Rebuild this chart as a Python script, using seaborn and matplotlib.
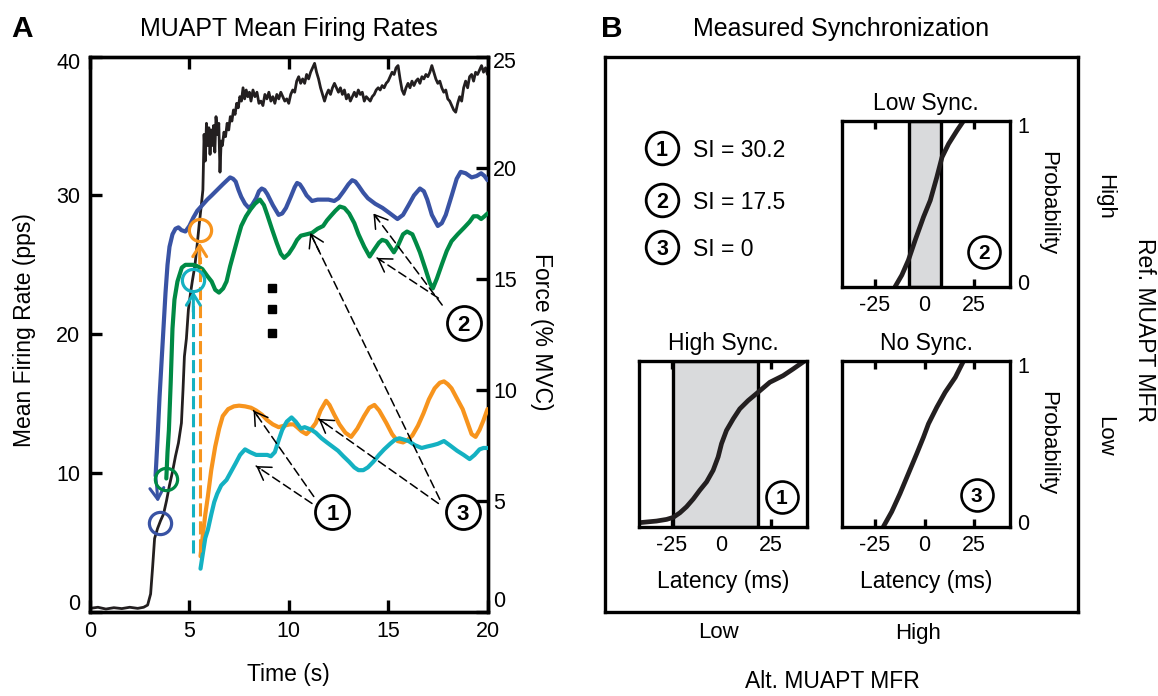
import matplotlib
matplotlib.use("Agg")
import matplotlib.pyplot as plt
from matplotlib.transforms import ScaledTranslation
import seaborn as sns

# ---------------- Panel A data ----------------
time_ticks = [0, 5, 10, 15, 20]
rate_ticks = [0, 10, 20, 30, 40]
force_ticks = [0, 5, 10, 15, 20, 25]

force_t = [0.0, 0.4, 0.8, 1.2, 1.6, 2.0, 2.4, 2.7, 2.9, 3.05, 3.15, 3.25, 3.4, 3.55, 3.7, 3.85,
           4.0, 4.15, 4.3, 4.45, 4.6, 4.68, 4.75, 4.85, 4.95, 5.05, 5.15, 5.28, 5.4, 5.5, 5.6, 5.68,
           5.74, 5.8, 5.86, 5.92, 5.98, 6.04, 6.1, 6.16, 6.22, 6.28, 6.34, 6.42, 6.48, 6.54, 6.6, 6.66,
           6.74, 6.82, 6.9, 6.98, 7.06, 7.14, 7.22, 7.3, 7.38, 7.46, 7.54, 7.62, 7.7, 7.78, 7.86, 7.94,
           8.02, 8.1, 8.2, 8.3, 8.4, 8.5, 8.6, 8.7, 8.8, 8.9, 9.0, 9.1, 9.2, 9.3, 9.4, 9.5, 9.6, 9.7,
           9.8, 9.9, 10.0, 10.1, 10.2, 10.3, 10.4, 10.5, 10.6, 10.7, 10.8, 10.9, 11.0, 11.1, 11.2, 11.3,
           11.4, 11.5, 11.6, 11.7, 11.8, 11.9, 12.0, 12.1, 12.2, 12.3, 12.4, 12.5, 12.6, 12.7, 12.8, 12.9,
           13.0, 13.1, 13.2, 13.3, 13.4, 13.5, 13.6, 13.7, 13.8, 13.9, 14.0, 14.1, 14.2, 14.3, 14.4, 14.5,
           14.6, 14.7, 14.8, 14.9, 15.0, 15.1, 15.2, 15.3, 15.4, 15.5, 15.6, 15.7, 15.8, 15.9, 16.0, 16.1,
           16.2, 16.3, 16.4, 16.5, 16.6, 16.7, 16.8, 16.9, 17.0, 17.1, 17.2, 17.3, 17.4, 17.5, 17.6, 17.7,
           17.8, 17.9, 18.0, 18.1, 18.2, 18.3, 18.4, 18.5, 18.6, 18.7, 18.8, 18.9, 19.0, 19.1, 19.2, 19.3,
           19.4, 19.5, 19.6, 19.7, 19.8, 19.9, 20.0]
force_mvc = [0.15, 0.2, 0.12, 0.18, 0.14, 0.2, 0.15, 0.2, 0.3, 0.8, 2.0, 3.3, 3.75, 4.1, 4.4, 5.0,
             5.7, 6.3, 7.0, 7.6, 8.5, 10.0, 11.5, 12.3, 13.6, 14.3, 14.9, 15.6, 16.6, 17.5, 18.3, 19.0,
             21.5, 20.3, 22.0, 21.0, 21.8, 20.6, 21.7, 21.0, 21.9, 20.7, 22.3, 21.5, 22.0, 19.8, 21.2, 21.0,
             21.6, 21.4, 22.0, 21.7, 22.3, 22.1, 22.6, 22.4, 22.9, 22.7, 23.2, 23.0, 23.6, 23.1, 23.5, 23.2,
             23.4, 23.0, 23.5, 23.2, 23.4, 22.9, 23.0, 22.8, 23.3, 23.1, 23.4, 23.0, 23.2, 22.9, 23.3, 23.1, 23.4, 23.2,
             23.0, 23.1, 22.9, 23.3, 23.5, 23.4, 23.9, 24.1, 23.8, 24.0, 23.8, 24.2, 24.0, 24.3, 24.5, 24.7,
             24.3, 24.0, 23.6, 23.3, 23.0, 23.3, 23.5, 23.3, 23.6, 23.8, 23.6, 23.4, 23.6, 23.3, 23.5, 23.1,
             23.3, 23.0, 23.2, 23.4, 23.2, 23.5, 23.3, 23.4, 23.0, 23.2, 23.1, 23.0, 23.2, 23.3, 23.5, 23.6,
             23.5, 23.7, 23.6, 23.8, 23.9, 24.1, 24.3, 24.2, 24.5, 24.6, 24.0, 23.5, 23.3, 23.6, 23.8, 23.6,
             23.9, 23.7, 23.9, 24.0, 23.8, 24.1, 24.0, 24.2, 24.1, 24.3, 24.6, 24.3, 24.0, 23.8, 23.9, 23.6,
             23.4, 23.5, 23.1, 23.0, 22.8, 22.6, 22.5, 22.9, 23.2, 23.0, 23.6, 23.9, 23.6, 24.1, 24.2, 23.9,
             24.3, 24.2, 24.4, 24.6, 24.3, 24.5, 24.2]

blue_t = [3.30, 3.40, 3.50, 3.60, 3.70, 3.80, 3.90, 4.00, 4.15, 4.30, 4.45, 4.60, 4.80, 5.00, 5.20,
          5.40, 5.65, 5.90, 6.12, 6.40, 6.68, 6.90, 7.05, 7.20, 7.33, 7.47, 7.61, 7.80, 7.99, 8.15,
          8.36, 8.50, 8.64, 8.78, 8.92, 9.20, 9.49, 9.67, 9.86, 10.10, 10.30, 10.42, 10.56, 10.70,
          10.90, 11.17, 11.45, 11.73, 12.00, 12.29, 12.50, 12.76, 13.00, 13.19, 13.35, 13.51, 13.75,
          13.98, 14.35, 14.72, 15.10, 15.47, 15.75, 16.03, 16.30, 16.60, 16.80, 16.97, 17.20, 17.50,
          17.70, 17.90, 18.20, 18.45, 18.65, 18.90, 19.20, 19.45, 19.68, 19.85, 20.00]
blue_rate = [9.8, 12.5, 15.5, 18.0, 20.5, 23.0, 25.0, 26.3, 27.2, 27.6, 27.7, 27.5, 27.4, 27.8, 28.4,
             28.9, 29.3, 29.7, 30.0, 30.4, 30.8, 31.1, 31.3, 31.2, 31.0, 30.4, 29.9, 29.4, 29.1, 29.3,
             29.8, 30.3, 30.5, 30.4, 30.1, 29.3, 28.6, 28.7, 29.1, 29.9, 30.6, 30.9, 30.8, 30.5,
             30.0, 29.6, 29.7, 29.7, 29.7, 29.6, 29.8, 30.3, 30.8, 31.1, 31.0, 30.7, 30.2,
             29.8, 29.4, 29.1, 28.7, 28.3, 28.6, 29.3, 30.0, 30.5, 30.3, 29.7, 28.6, 27.8,
             28.0, 28.6, 30.0, 31.2, 31.7, 31.6, 31.3, 31.4, 31.6, 31.4, 31.1]

green_t = [3.84, 3.90, 3.97, 4.06, 4.15, 4.25, 4.40, 4.62, 4.80, 5.00, 5.18, 5.40, 5.65, 5.90, 6.12,
           6.30, 6.49, 6.70, 6.87, 7.05, 7.24, 7.45, 7.61, 7.85, 8.08, 8.30, 8.55, 8.75, 8.92, 9.15,
           9.39, 9.60, 9.77, 10.00, 10.23, 10.42, 10.61, 10.90, 11.17, 11.45, 11.73, 11.92, 12.10,
           12.35, 12.57, 12.80, 13.04, 13.30, 13.51, 13.80, 14.07, 14.30, 14.54, 14.70, 14.91, 15.10,
           15.29, 15.50, 15.75, 15.95, 16.22, 16.40, 16.60, 16.90, 17.10, 17.25, 17.45, 17.72, 17.95,
           18.19, 18.50, 18.84, 19.10, 19.30, 19.50, 19.68, 19.85, 20.00]
green_rate = [9.6, 11.5, 13.1, 16.5, 20.4, 22.5, 23.8, 24.8, 25.0, 25.0, 25.0, 24.9, 24.7, 24.2, 23.8,
              23.2, 23.0, 23.3, 23.8, 24.9, 25.9, 27.0, 27.8, 28.5, 29.0, 29.4, 29.7, 29.3, 28.6, 27.6,
              26.6, 25.8, 25.5, 25.8, 26.3, 26.8, 27.1, 27.2, 27.3, 27.6, 27.8, 28.2, 28.5,
              28.9, 29.2, 29.1, 28.7, 28.0, 27.2, 26.3, 25.6, 26.1, 26.6, 26.8, 26.7, 26.3,
              25.9, 26.4, 27.2, 27.4, 27.2, 26.6, 25.9, 24.6, 23.7, 23.3, 24.0, 25.1, 26.0,
              26.7, 27.2, 27.7, 28.1, 28.5, 28.5, 28.3, 28.5, 28.7]

orange_t = [5.56, 5.70, 5.80, 5.93, 6.10, 6.30, 6.50, 6.68, 6.95, 7.24, 7.50, 7.80, 8.10, 8.36, 8.65,
            8.92, 9.20, 9.49, 9.75, 10.05, 10.25, 10.42, 10.65, 10.89, 11.10, 11.36, 11.60, 11.88,
            12.05, 12.29, 12.55, 12.85, 13.14, 13.45, 13.79, 14.05, 14.31, 14.55, 14.91, 15.20, 15.47,
            15.75, 16.00, 16.22, 16.50, 16.78, 17.05, 17.34, 17.60, 17.81, 18.00, 18.19, 18.45, 18.75,
            19.00, 19.20, 19.40, 19.60, 19.80, 20.00]
orange_rate = [4.0, 5.8, 7.0, 8.3, 10.2, 11.9, 13.2, 14.1, 14.6, 14.8, 14.85, 14.8, 14.7, 14.5, 14.2,
               13.8, 13.5, 13.3, 13.4, 13.5, 13.5, 13.3, 13.0, 12.8, 13.1, 13.6, 14.5, 15.2,
               14.9, 14.2, 13.5, 12.9, 12.6, 13.2, 14.1, 14.7, 14.9, 14.5, 13.6, 12.8, 12.3,
               12.2, 12.4, 12.7, 13.4, 14.3, 15.3, 16.1, 16.5, 16.6, 16.4, 16.1, 15.4, 14.6,
               13.6, 12.8, 12.6, 13.1, 13.8, 14.6]

cyan_t = [5.56, 5.70, 5.80, 5.93, 6.10, 6.25, 6.40, 6.60, 6.87, 7.10, 7.33, 7.55, 7.80, 8.05, 8.36,
          8.65, 8.92, 9.10, 9.30, 9.50, 9.67, 9.90, 10.14, 10.35, 10.61, 10.80, 10.98, 11.15, 11.36,
          11.65, 11.92, 12.20, 12.48, 12.75, 13.04, 13.30, 13.51, 13.75, 13.98, 14.25, 14.54, 14.80,
          15.10, 15.35, 15.57, 15.80, 16.03, 16.35, 16.69, 16.95, 17.25, 17.50, 17.81, 18.10, 18.47,
          18.80, 19.10, 19.35, 19.60, 19.80, 20.00]
cyan_rate = [3.1, 4.4, 5.3, 5.9, 7.0, 7.9, 8.5, 9.1, 9.5, 10.1, 10.7, 11.3, 11.7, 11.5, 11.3,
             11.3, 11.3, 11.2, 11.5, 12.4, 13.1, 13.7, 14.0, 13.7, 13.2, 13.3, 13.2, 13.1, 12.9,
             12.5, 12.2, 11.9, 11.6, 11.2, 10.8, 10.4, 10.2, 10.2, 10.4, 10.8, 11.3, 11.7,
             12.1, 12.4, 12.5, 12.4, 12.3, 12.0, 11.8, 11.9, 12.0, 12.1, 12.3, 12.0, 11.6,
             11.3, 11.0, 11.3, 11.7, 11.8, 11.8]

# recruitment markers (time, rate) and dashed onset guides
recruit_blue = (3.50, 6.4)
recruit_green = (3.84, 9.6)
recruit_orange = (5.52, 27.5)
recruit_cyan = (5.20, 23.9)
guide_orange = (5.52, 4.3, 25.6)
guide_cyan = (5.20, 4.2, 22.1)
ellipsis_t = 9.17
ellipsis_rate = [23.3, 21.8, 20.1]

# circled labels in panel A (label, time, rate) and arrows (start, tip)
label_pos = [("1", 12.2, 7.15), ("2", 18.8, 20.8), ("3", 18.75, 7.15)]
pointer_arrows = [((11.17, 7.8), (8.36, 10.5)), ((11.26, 8.3), (8.23, 14.5)),
                  ((17.53, 7.8), (11.5, 13.9)), ((17.6, 8.1), (11.08, 27.3)),
                  ((17.72, 22.1), (14.26, 28.7)), ((17.53, 22.6), (14.44, 25.5))]

# ---------------- Panel B data ----------------
lat_ticks = [-25, 0, 25]
lat_tick_labels = ["-25", "0", "25"]
si_labels = ["1", "2", "3"]
si_values = ["SI = 30.2", "SI = 17.5", "SI = 0"]

lat_low = [-14.8, -11.4, -8.1, -4.7, -0.5, 2.9, 6.2, 8.8, 12.1, 16.3, 19.7]
p_low = [0.0, 0.07, 0.16, 0.28, 0.42, 0.52, 0.66, 0.78, 0.86, 0.94, 1.0]
shade_low = (-7.6, 8.4)

lat_high = [-41.5, -32.7, -27.6, -24.3, -20.9, -17.6, -14.2, -10.9, -7.5, -4.2, -1.7, 0.0, 2.5, 5.9,
            9.2, 13.4, 18.4, 24.3, 31.0, 36.0, 42.0]
p_high = [0.024, 0.034, 0.044, 0.056, 0.084, 0.12, 0.167, 0.22, 0.27, 0.34, 0.42, 0.50, 0.58, 0.65,
          0.71, 0.76, 0.81, 0.87, 0.91, 0.95, 1.0]
shade_high = (-24.4, 18.4)

lat_no = [-20.7, -16.5, -12.3, -8.1, -3.9, -0.5, 2.0, 6.2, 10.4, 15.5, 19.7]
p_no = [0.0, 0.09, 0.2, 0.32, 0.44, 0.54, 0.62, 0.72, 0.81, 0.90, 1.0]

BLUE, GREEN, ORANGE, CYAN = "#3953a4", "#008a45", "#f7941d", "#14b1c2"
INK = "#231f20"
SHADE = "#d9dadc"

sns.set_theme(style="white", rc={
    "axes.edgecolor": "black", "axes.linewidth": 2.4,
    "text.color": "black", "axes.labelcolor": "black",
    "xtick.color": "black", "ytick.color": "black",
    "figure.facecolor": "white", "axes.facecolor": "white",
})
plt.rcParams["font.family"] = ["Liberation Sans", "DejaVu Sans"]

W, H = 1158, 696
fig = plt.figure(figsize=(W / 100, H / 100), dpi=100)


def rect(l, t, r, b):
    return [l / W, 1 - b / H, (r - l) / W, (b - t) / H]


def fp(x, y):
    return x / W, 1 - y / H


def nudge(axis, idx, dy_px):
    tick = axis.get_major_ticks()[idx]
    off = ScaledTranslation(0, dy_px / 100, fig.dpi_scale_trans)
    tick.label1.set_transform(tick.label1.get_transform() + off)
    tick.label2.set_transform(tick.label2.get_transform() + off)


def circled(ax, x, y, s, ms, fs, transform=None, mew=2.0):
    tr = transform if transform is not None else ax.transData
    ax.plot([x], [y], marker="o", ms=ms, mfc="white", mec="black", mew=mew,
            transform=tr, clip_on=False, zorder=8)
    ax.text(x, y, s, ha="center", va="center_baseline", fontsize=fs, fontweight="bold",
            transform=tr, zorder=9)


# ================= Panel A =================
axA = fig.add_axes(rect(90, 56.7, 487.5, 611.7))
axF = axA.twinx()
axA.set_zorder(axF.get_zorder() + 1)
axA.patch.set_visible(False)

sns.lineplot(x=force_t, y=force_mvc, ax=axF, color=INK, lw=2.0, errorbar=None)
for tt, rr, cc in [(blue_t, blue_rate, BLUE), (green_t, green_rate, GREEN),
                   (orange_t, orange_rate, ORANGE), (cyan_t, cyan_rate, CYAN)]:
    sns.lineplot(x=tt, y=rr, ax=axA, color=cc, lw=3.0, errorbar=None, zorder=3)

dash_c = (0, (4.3, 1.6))
for (gx, g0, g1), cc in [(guide_orange, ORANGE), (guide_cyan, CYAN)]:
    axA.plot([gx, gx], [g0, g1], color=cc, lw=2.2, ls=dash_c, zorder=3)
    axA.annotate("", xy=(gx, g1 + 1.0), xytext=(gx, g1 - 0.5),
                 arrowprops=dict(arrowstyle="->,head_length=0.4,head_width=0.25", color=cc,
                                 lw=2.2, shrinkA=0, shrinkB=0, mutation_scale=20), zorder=4)
axA.annotate("", xy=(3.42, 7.9), xytext=(3.30, 10.0),
             arrowprops=dict(arrowstyle="->,head_length=0.4,head_width=0.25", color=BLUE,
                             lw=2.2, shrinkA=0, shrinkB=0, mutation_scale=20), zorder=4)

for (px, py), cc in [(recruit_blue, BLUE), (recruit_green, GREEN),
                     (recruit_orange, ORANGE), (recruit_cyan, CYAN)]:
    axA.plot([px], [py], marker="o", ms=16, mfc="none", mec=cc, mew=2.3, zorder=6)

axA.plot([ellipsis_t] * 3, ellipsis_rate, ls="none", marker="s", ms=6, color="black", zorder=5)

for start, tip in pointer_arrows:
    axA.annotate("", xy=tip, xytext=start,
                 arrowprops=dict(arrowstyle="-", lw=1.1, ls=(0, (5.5, 3)), color="black",
                                 shrinkA=0, shrinkB=0), zorder=5)
    near = (tip[0] + 0.07 * (start[0] - tip[0]), tip[1] + 0.07 * (start[1] - tip[1]))
    axA.annotate("", xy=tip, xytext=near,
                 arrowprops=dict(arrowstyle="->,head_length=0.45,head_width=0.28", lw=1.1,
                                 color="black", shrinkA=0, shrinkB=0, mutation_scale=20), zorder=5)

for s, lx, ly in label_pos:
    circled(axA, lx, ly, s, ms=24.5, fs=16)

axA.set_xlim(0, 20)
axA.set_ylim(0, 40)
axF.set_ylim(0, 25)
axA.set_xticks(time_ticks, labels=[str(v) for v in time_ticks])
axA.set_yticks(rate_ticks, labels=[str(v) for v in rate_ticks])
axF.set_yticks(force_ticks, labels=[str(v) for v in force_ticks])
axA.tick_params(axis="x", direction="in", length=8.5, width=2.4, top=True, bottom=True,
                labelsize=15.5, pad=6.5)
axA.tick_params(axis="y", direction="in", length=8.5, width=2.4, left=True, right=False,
                labelsize=15.5, pad=7)
axF.tick_params(axis="y", direction="in", length=8.5, width=2.4, right=True, left=False,
                labelsize=15.5, pad=4)
for a in (axA, axF):
    for sp in a.spines.values():
        sp.set_linewidth(2.4)
        sp.set_color("black")

axA.set_title("MUAPT Mean Firing Rates", fontsize=18, pad=15)
axA.set_xlabel("Time (s)", fontsize=16.5)
axA.xaxis.set_label_coords(0.5, (611.7 - 680.7) / 555)
axA.xaxis.label.set_va("baseline")
axA.set_ylabel("Mean Firing Rate (pps)", fontsize=16.5)
axA.yaxis.set_label_coords((25 - 90) / 397.5, (611.7 - 330) / 555)
axA.yaxis.label.set_va("center")
axF.set_ylabel("Force (% MVC)", fontsize=16.5, rotation=270)
axF.yaxis.set_label_coords((542 - 90) / 397.5, (611.7 - 332) / 555)
axF.yaxis.label.set_va("center")
axF.yaxis.label.set_ha("center")

nudge(axA.yaxis, 0, 10)
nudge(axA.yaxis, 4, -4)
nudge(axF.yaxis, 0, 13)
nudge(axF.yaxis, 5, -3)

fig.text(*fp(22.5, 36.7), "A", fontsize=21.5, fontweight="bold", ha="center", va="baseline")
fig.text(*fp(612, 36.7), "B", fontsize=21.5, fontweight="bold", ha="center", va="baseline")

# ================= Panel B =================
axB = fig.add_axes(rect(605, 56.7, 1078, 612))
axB.set_xticks([])
axB.set_yticks([])
for sp in axB.spines.values():
    sp.set_linewidth(2.4)
axB.set_title("Measured Synchronization", fontsize=18, pad=15)

for i, (s, txt) in enumerate(zip(si_labels, si_values)):
    cy = [148, 200, 246.5][i]
    cx, cyf = fp(662, cy)
    circled(axB, cx, cyf, s, ms=23.5, fs=15.5, transform=fig.transFigure)
    fig.text(*fp(693, cy), txt, fontsize=16.5, ha="left", va="center_baseline")


def cdf_box(box, lat, prob, shade, title, num, numpos, right_labels, xlabel):
    ax = fig.add_axes(rect(*box))
    if shade is not None:
        ax.axvspan(shade[0], shade[1], fc=SHADE, ec="black", lw=2.4, zorder=1)
    sns.lineplot(x=lat, y=prob, ax=ax, color=INK, lw=3.4, errorbar=None, zorder=3)
    ax.set_xlim(-41.5, 43)
    ax.set_ylim(0, 1)
    ax.set_xticks(lat_ticks, labels=lat_tick_labels)
    ax.tick_params(axis="x", direction="in", length=5.5, width=2.4, top=True, bottom=True,
                   labelsize=15.5, pad=6)
    if right_labels:
        ax.yaxis.tick_right()
        ax.set_yticks([0, 1], labels=["0", "1"])
        ax.tick_params(axis="y", length=0, pad=5, labelsize=15.5)
        ax.yaxis.set_label_position("right")
        ax.set_ylabel("Probability", fontsize=16, rotation=270)
        ax.yaxis.set_label_coords(1.226, 0.504)
        ax.yaxis.label.set_va("center")
        ax.yaxis.label.set_ha("center")
        nudge(ax.yaxis, 0, 5)
        nudge(ax.yaxis, 1, -4)
    else:
        ax.set_yticks([])
    for sp in ax.spines.values():
        sp.set_linewidth(2.4)
        sp.set_color("black")
        sp.set_zorder(5)
    ax.set_title(title, fontsize=16.5, pad=8)
    if xlabel:
        ax.set_xlabel("Latency (ms)", fontsize=16.5)
        ax.xaxis.set_label_coords(0.5, -0.371)
        ax.xaxis.label.set_va("baseline")
    circled(ax, numpos[0], numpos[1], num, ms=23, fs=15, transform=ax.transAxes, mew=1.9)
    return ax


cdf_box((842, 120.7, 1010, 286.7), lat_low, p_low, shade_low, "Low Sync.", "2",
        (0.845, 0.211), True, False)
cdf_box((639, 360.7, 807, 526.7), lat_high, p_high, shade_high, "High Sync.", "1",
        (0.849, 0.181), False, True)
cdf_box((842, 360.7, 1010, 526.7), lat_no, p_no, None, "No Sync.", "3",
        (0.802, 0.191), True, True)

fig.text(*fp(1104.5, 197), "High", fontsize=16, rotation=270, ha="center", va="center")
fig.text(*fp(1104.5, 436), "Low", fontsize=16, rotation=270, ha="center", va="center")
fig.text(*fp(1145, 330), "Ref. MUAPT MFR", fontsize=16.5, rotation=270, ha="center", va="center")
fig.text(*fp(718, 633), "Low", fontsize=16, ha="center", va="center")
fig.text(*fp(918, 633), "High", fontsize=16, ha="center", va="center")
fig.text(*fp(832, 681), "Alt. MUAPT MFR", fontsize=16.5, ha="center", va="center")

fig.savefig("out.png", dpi=100)
